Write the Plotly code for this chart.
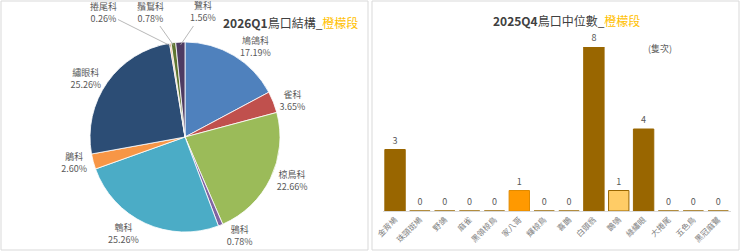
import math
import plotly.graph_objects as go

# ---- data ----
pie_labels = ["鳩鴿科", "雀科", "椋鳥科", "鴉科", "鵯科", "鵑科", "繡眼科", "捲尾科", "鬚鴷科", "鷺科"]
pie_values = [17.19, 3.65, 22.66, 0.78, 25.26, 2.60, 25.26, 0.26, 0.78, 1.56]
pie_colors = ["#4F81BD", "#C0504D", "#9BBB59", "#8064A2", "#4BACC6", "#F79646",
              "#2C4D75", "#E8A070", "#5F7530", "#4D3B62"]
# labels of these tiny slices are laid out in a row above the pie (as in the reference)
top_label_pos = {"捲尾科": (103, 12), "鬚鴷科": (150, 12), "鷺科": (203, 12)}

bar_cats = ["金背鳩", "珠頸斑鳩", "野鴿", "麻雀", "黑領椋鳥", "家八哥", "輝椋鳥",
            "喜鵲", "白頭翁", "鵲鴝", "綠繡眼", "大捲尾", "五色鳥", "黑冠麻鷺"]
bar_vals = [3, 0, 0, 0, 0, 1, 0, 0, 8, 1, 4, 0, 0, 0]
bar_fill = ["#996600"] * 14
bar_fill[5] = "#FF9900"
bar_fill[9] = "#FFCC66"
bar_line = ["#996600"] * 14
bar_line[5] = "#E08A00"

W, H = 740, 251
FONT = "Noto Sans CJK TC"

# pie geometry (pixels from top-left)
PCX, PCY, PR = 185, 137, 95

total = sum(pie_values)
pie_text = []
for lab, v in zip(pie_labels, pie_values):
    pie_text.append("" if lab in top_label_pos else f"{lab}<br>{v / total * 100:.2f}%")

fig = go.Figure()

fig.add_trace(go.Pie(
    labels=pie_labels, values=pie_values, sort=False, direction="clockwise",
    rotation=0, automargin=False,
    marker=dict(colors=pie_colors, line=dict(color="#FFFFFF", width=0.8)),
    text=pie_text, textinfo="text",
    textposition="outside",
    textfont=dict(family=FONT, size=9, color="#595959"),
    domain=dict(x=[(PCX - PR) / W, (PCX + PR) / W],
                y=[(H - PCY - PR) / H, (H - PCY + PR) / H]),
    showlegend=False, hoverinfo="label+percent",
))

fig.add_trace(go.Bar(
    x=bar_cats, y=bar_vals,
    marker=dict(color=bar_fill, line=dict(color=bar_line, width=1)),
    text=[str(v) for v in bar_vals], textposition="outside",
    textfont=dict(family=FONT, size=9, color="#595959"),
    cliponaxis=False, showlegend=False,
    xaxis="x", yaxis="y",
))

annotations = [
    dict(text="<b>2026Q1</b>鳥口結構_<span style='color:#FFC000'>橙檬段</span>",
         xref="paper", yref="paper", x=290 / W, y=(H - 22) / H,
         showarrow=False, font=dict(family=FONT, size=12, color="#404040"),
         xanchor="center", yanchor="middle"),
    dict(text="<b>2025Q4</b>鳥口中位數_<span style='color:#FFC000'>橙檬段</span>",
         xref="paper", yref="paper", x=566 / W, y=(H - 20) / H,
         showarrow=False, font=dict(family=FONT, size=12, color="#404040"),
         xanchor="center", yanchor="middle"),
    dict(text="(隻次)", xref="paper", yref="paper", x=660 / W, y=(H - 48) / H,
         showarrow=False, font=dict(family=FONT, size=9, color="#595959"),
         xanchor="center", yanchor="middle"),
]

# leader-lined labels for the tiny slices, pointing at their slice mid-angle
cum = 0.0
for lab, v in zip(pie_labels, pie_values):
    mid = (cum + v / 2) / total * 2 * math.pi
    cum += v
    if lab not in top_label_pos:
        continue
    tx = PCX + PR * 0.97 * math.sin(mid)
    ty = PCY - PR * 0.97 * math.cos(mid)
    lx, ly = top_label_pos[lab]
    annotations.append(dict(
        text=f"{lab}<br>{v / total * 100:.2f}%",
        xref="paper", yref="paper", x=tx / W, y=(H - ty) / H,
        ax=lx - tx, ay=ly - ty, showarrow=True, arrowhead=0,
        arrowwidth=0.8, arrowcolor="#A6A6A6", standoff=0,
        font=dict(family=FONT, size=9, color="#595959"),
    ))

fig.update_layout(
    width=W, height=H,
    margin=dict(l=0, r=0, t=0, b=0, autoexpand=False),
    paper_bgcolor="white", plot_bgcolor="white",
    font=dict(family=FONT, color="#595959"),
    bargap=0.18,
    xaxis=dict(domain=[382.6 / W, 730.6 / W], showgrid=False, zeroline=False,
               showline=True, linecolor="#D9D9D9", linewidth=1, automargin=False,
               tickangle=-45, tickfont=dict(family=FONT, size=8, color="#7F7F7F"),
               ticks=""),
    yaxis=dict(domain=[(H - 211) / H, (H - 47) / H], range=[0, 8],
               visible=False, showgrid=False, automargin=False),
    shapes=[
        dict(type="rect", xref="paper", yref="paper", x0=1 / W, x1=368 / W, y0=1 / H, y1=250 / H,
             line=dict(color="#D9D9D9", width=1)),
        dict(type="rect", xref="paper", yref="paper", x0=372 / W, x1=739 / W, y0=1 / H, y1=250 / H,
             line=dict(color="#D9D9D9", width=1)),
    ],
    annotations=annotations,
)

fig.write_html("out.html")
